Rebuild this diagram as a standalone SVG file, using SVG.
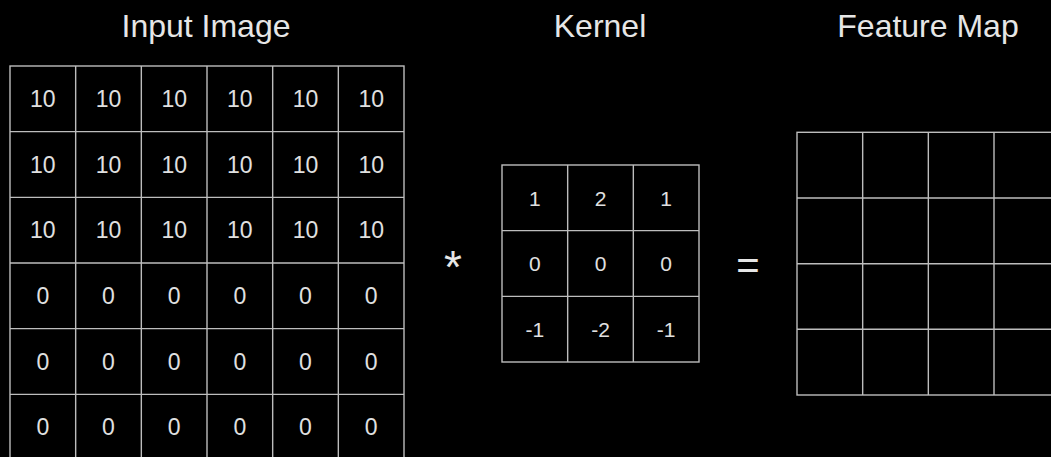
<svg xmlns="http://www.w3.org/2000/svg" width="1051" height="457" viewBox="0 0 1051 457">
  <style>
    .title { font-family: "Liberation Sans", Arial, sans-serif; font-size: 32px; fill: #e6e6e6; text-anchor: middle; }
    .grid { fill: none; stroke: #bdbdbd; stroke-width: 1.4; }
    .num { font-family: "Liberation Sans", Arial, sans-serif; font-size: 23px; fill: #e0e0e0; text-anchor: middle; dominant-baseline: central; }
    .knum { font-family: "Liberation Sans", Arial, sans-serif; font-size: 21px; fill: #e0e0e0; text-anchor: middle; dominant-baseline: central; }
    .op { font-family: "Liberation Sans", Arial, sans-serif; fill: #e6e6e6; text-anchor: middle; }
  </style>
  <rect x="0" y="0" width="1051" height="457" fill="#000"/>

  <!-- Titles -->
  <text class="title" x="206" y="37">Input Image</text>
  <text class="title" x="600" y="37">Kernel</text>
  <text class="title" x="928" y="37">Feature Map</text>

  <!-- Input image: 6x6 grid, cell 65.67 -->
  <g id="input-image">
    <g class="grid">
      <rect x="10" y="66" width="394" height="394"/>
      <path d="M75.67 66V460 M141.33 66V460 M207 66V460 M272.67 66V460 M338.33 66V460
               M10 131.67H404 M10 197.33H404 M10 263H404 M10 328.67H404 M10 394.33H404"/>
    </g>
    <g class="num">
      <text x="42.8" y="99">10</text><text x="108.5" y="99">10</text><text x="174.2" y="99">10</text><text x="239.8" y="99">10</text><text x="305.5" y="99">10</text><text x="371.2" y="99">10</text>
      <text x="42.8" y="164.5">10</text><text x="108.5" y="164.5">10</text><text x="174.2" y="164.5">10</text><text x="239.8" y="164.5">10</text><text x="305.5" y="164.5">10</text><text x="371.2" y="164.5">10</text>
      <text x="42.8" y="230.2">10</text><text x="108.5" y="230.2">10</text><text x="174.2" y="230.2">10</text><text x="239.8" y="230.2">10</text><text x="305.5" y="230.2">10</text><text x="371.2" y="230.2">10</text>
      <text x="42.8" y="295.8">0</text><text x="108.5" y="295.8">0</text><text x="174.2" y="295.8">0</text><text x="239.8" y="295.8">0</text><text x="305.5" y="295.8">0</text><text x="371.2" y="295.8">0</text>
      <text x="42.8" y="361.5">0</text><text x="108.5" y="361.5">0</text><text x="174.2" y="361.5">0</text><text x="239.8" y="361.5">0</text><text x="305.5" y="361.5">0</text><text x="371.2" y="361.5">0</text>
      <text x="42.8" y="427.2">0</text><text x="108.5" y="427.2">0</text><text x="174.2" y="427.2">0</text><text x="239.8" y="427.2">0</text><text x="305.5" y="427.2">0</text><text x="371.2" y="427.2">0</text>
    </g>
  </g>

  <!-- Convolution operator -->
  <text id="op-conv" class="op" x="453" y="283" font-size="46">*</text>

  <!-- Kernel: 3x3 grid -->
  <g id="kernel">
    <g class="grid">
      <rect x="502" y="165" width="197" height="197"/>
      <path d="M567.67 165V362 M633.33 165V362 M502 230.67H699 M502 296.33H699"/>
    </g>
    <g class="knum">
      <text x="534.8" y="198">1</text><text x="600.5" y="198">2</text><text x="666.2" y="198">1</text>
      <text x="534.8" y="263.7">0</text><text x="600.5" y="263.7">0</text><text x="666.2" y="263.7">0</text>
      <text x="534.8" y="329.3">-1</text><text x="600.5" y="329.3">-2</text><text x="666.2" y="329.3">-1</text>
    </g>
  </g>

  <!-- Equals sign -->
  <text id="op-equals" class="op" x="748" y="279" font-size="40">=</text>

  <!-- Feature map: 4x4 empty grid, runs past the right edge -->
  <g id="feature-map">
    <g class="grid">
      <rect x="797" y="132.3" width="262.7" height="262.7"/>
      <path d="M862.67 132.3V395 M928.33 132.3V395 M994 132.3V395
               M797 198H1060 M797 263.7H1060 M797 329.3H1060"/>
    </g>
  </g>

  <!-- No connectors in this figure -->
  <g id="connectors"/>
</svg>
